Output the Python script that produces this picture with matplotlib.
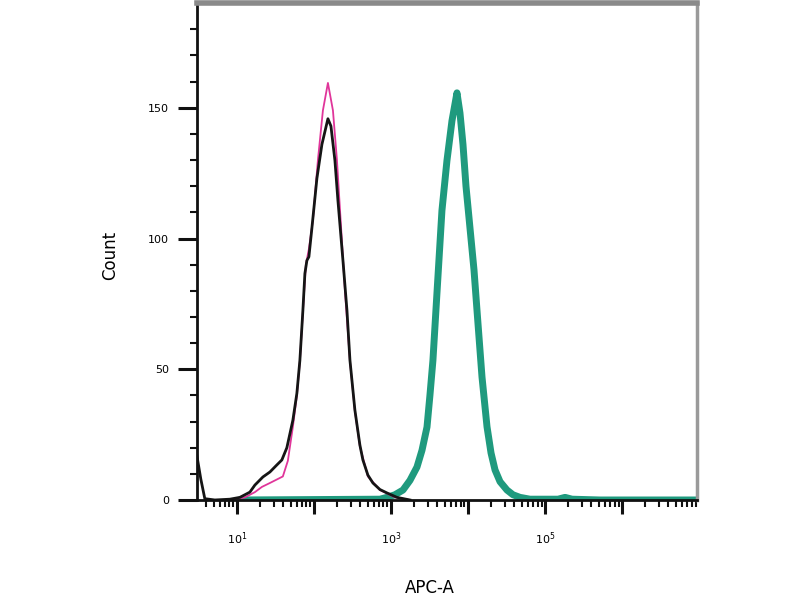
import matplotlib.pyplot as plt
import numpy as np
from matplotlib.ticker import FixedLocator, NullFormatter

# log10(APC-A) positions and counts
black_lx = [0.481, 0.532, 0.584, 0.714, 0.909, 1.039, 1.169, 1.234, 1.338, 1.429,
            1.519, 1.584, 1.649, 1.727, 1.779, 1.818, 1.857, 1.883, 1.909, 1.935,
            1.974, 2.039, 2.104, 2.182, 2.221, 2.273, 2.312, 2.377, 2.429, 2.468,
            2.532, 2.597, 2.636, 2.701, 2.766, 2.857, 2.948, 3.078, 3.247]
black_count = [17, 8, 0.5, 0, 0.3, 1, 3, 5.7, 8.8, 10.7,
               13.4, 15.3, 20, 30.5, 40.8, 53.4, 72.5, 86.6, 91.6, 93,
               104, 123, 136, 145.8, 143, 129.8, 114.5, 91.6, 72.5, 53.4,
               34.4, 21, 15.3, 9.5, 6.5, 4, 2.7, 1, 0]

pink_lx = [0.909, 1.104, 1.234, 1.325, 1.429, 1.597, 1.662, 1.727, 1.779, 1.818,
           1.857, 1.896, 1.935, 1.987, 2.052, 2.117, 2.182, 2.247, 2.299, 2.351,
           2.403, 2.468, 2.532, 2.597, 2.701, 2.857, 3.052, 3.247]
pink_count = [0, 1, 3, 5, 6.5, 9, 15, 28, 40, 53,
              72, 90, 96, 107, 130, 149, 159.5, 149, 130, 105,
              80, 53, 34, 20.5, 9, 3.8, 1, 0]

teal_lx = [1.039, 2.857, 2.948, 3.052, 3.156, 3.247, 3.338, 3.403, 3.468, 3.506,
           3.545, 3.597, 3.662, 3.727, 3.792, 3.857, 3.896, 3.935, 3.974, 4.026,
           4.078, 4.117, 4.182, 4.247, 4.299, 4.351, 4.416, 4.506, 4.584, 4.675,
           4.805, 5.169, 5.260, 5.351, 5.714, 6.974]
teal_count = [0, 0.3, 1, 2, 3.8, 7.5, 12.6, 19, 27.9, 40,
              53.4, 79, 110.7, 129.8, 145, 155.7, 148, 136, 120, 104,
              88, 72.5, 47, 28, 18, 11.5, 7, 3.8, 2, 1,
              0.3, 0.3, 1, 0.3, 0, 0]

y_major = [0, 50, 100, 150]
x_decades = [1, 2, 3, 4, 5, 6]
x_labelled = [1, 3, 5]

fig = plt.figure(figsize=(8, 6), dpi=100)
ax = fig.add_axes([0.246, 0.1667, 0.625, 0.828])

ax.plot(10 ** np.array(teal_lx), teal_count, color='#1f9a7e', lw=5,
        solid_capstyle='round', solid_joinstyle='round')
ax.plot(10 ** np.array(pink_lx), pink_count, color='#e0359a', lw=1.3)
ax.plot(10 ** np.array(black_lx), black_count, color='#151515', lw=2)

ax.set_xscale('log')
ax.set_xlim(10 ** 0.48, 10 ** 6.97)
ax.set_ylim(0, 190)

ax.xaxis.set_major_locator(FixedLocator([10.0 ** d for d in x_decades]))
ax.set_xticklabels([r'$10^{%d}$' % d if d in x_labelled else '' for d in x_decades])
ax.xaxis.set_minor_formatter(NullFormatter())
ax.set_yticks(y_major)
ax.set_yticklabels([str(v) for v in y_major])
ax.set_yticks(np.arange(10, 190, 10), minor=True)

ax.tick_params(which='major', length=10, width=2.2, labelsize=8, pad=12, color='#111111')
ax.tick_params(which='minor', length=5, width=1.5, color='#111111')
ax.tick_params(axis='y', which='major', length=14, pad=6)

for side in ['left', 'bottom']:
    ax.spines[side].set_linewidth(2)
    ax.spines[side].set_color('#111111')
ax.spines['top'].set_color('#8a8a8a')
ax.spines['top'].set_linewidth(4)
ax.spines['right'].set_color('#9a9a9a')
ax.spines['right'].set_linewidth(2.5)

fig.text(0.1375, 0.575, 'Count', rotation=90, ha='center', va='center', fontsize=12)
fig.text(0.5375, 0.02, 'APC-A', ha='center', va='center', fontsize=12)

fig.savefig('out.png', dpi=100)
